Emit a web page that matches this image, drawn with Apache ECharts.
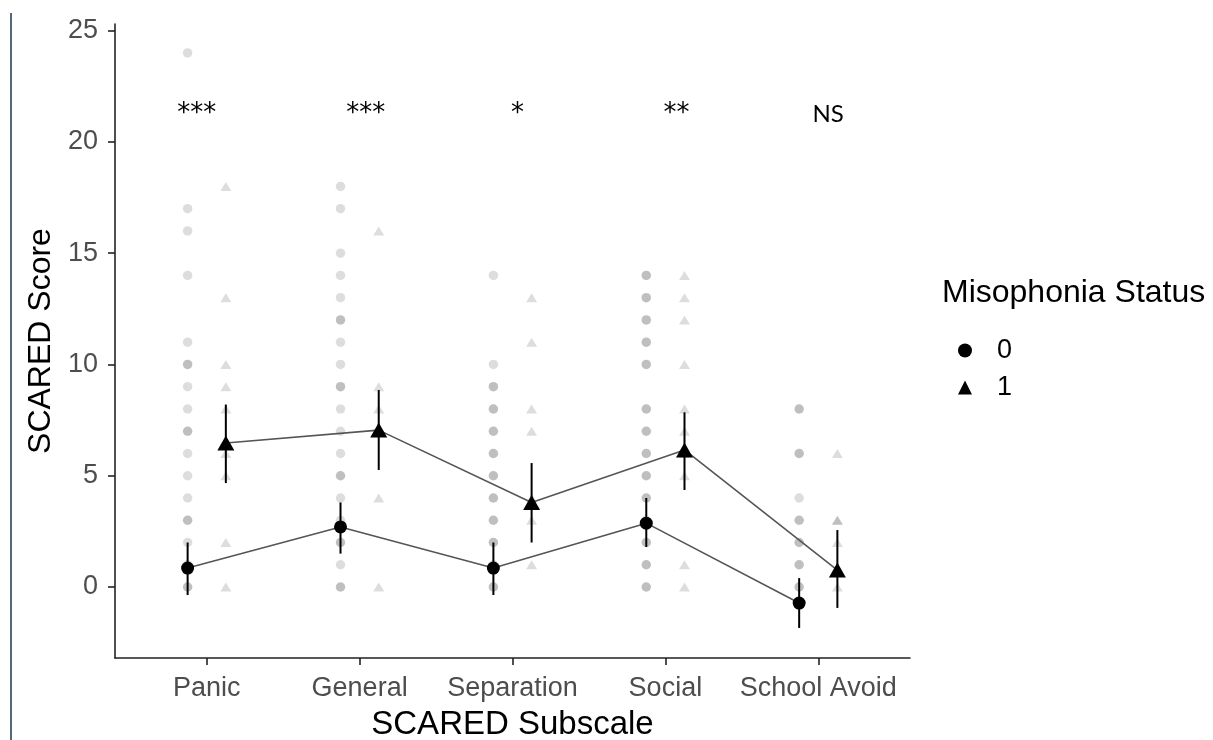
<!DOCTYPE html>
<html>
<head>
<meta charset="utf-8">
<script src="https://cdn.jsdelivr.net/npm/echarts@6/dist/echarts.min.js"></script>
<style>
html,body{margin:0;padding:0;background:#fff;}
#chart{width:1213px;height:740px;}
</style>
</head>
<body>
<div id="chart"></div>
<script>
// ---- data ----
const categories = ['Panic', 'General', 'Separation', 'Social', 'School Avoid'];
const yTicks = [0, 5, 10, 15, 20, 25];
const groupNames = ['0', '1'];

// raw observed scores (repeated values = overlapping observations)
const raw0 = [
  [24, 17, 16, 14, 11, 10, 10, 9, 8, 7, 7, 6, 5, 4, 3, 3, 2, 1, 0, 0],
  [18, 17, 15, 14, 13, 12, 12, 11, 10, 9, 9, 8, 7, 6, 5, 5, 4, 3, 2, 2, 1, 0, 0],
  [14, 10, 9, 9, 8, 8, 7, 7, 6, 6, 5, 5, 4, 4, 3, 3, 2, 2, 1, 0, 0],
  [14, 14, 13, 13, 12, 12, 11, 11, 10, 10, 8, 8, 7, 7, 6, 6, 5, 5, 4, 4, 3, 2, 2, 1, 1, 0, 0],
  [8, 8, 6, 6, 4, 3, 3, 2, 2, 1, 1, 0, 0]
];
const raw1 = [
  [18, 13, 10, 9, 8, 6, 5, 2, 0],
  [16, 9, 8, 7, 4, 0],
  [13, 11, 8, 7, 4, 3, 1],
  [14, 13, 12, 10, 8, 7, 6, 5, 1, 0],
  [6, 3, 3, 2, 0]
];

// group means and confidence limits
const mean0 = [0.85, 2.7, 0.85, 2.87, -0.72];
const lower0 = [-0.36, 1.5, -0.36, 1.8, -1.84];
const upper0 = [2.0, 3.8, 2.0, 4.0, 0.4];
const mean1 = [6.47, 7.05, 3.8, 6.16, 0.76];
const lower1 = [4.67, 5.26, 2.0, 4.36, -0.94];
const upper1 = [8.2, 8.85, 5.57, 7.85, 2.56];

// significance annotations
const annText = ['***', '***', '*', '**', 'NS'];
const annX = [0.935, 2.04, 3.033, 4.072, 5.065];
const annY = 21.25;

// ---- build ----
const dodge = 0.125;
function rawPoints(raw, off) {
  const out = [];
  raw.forEach((vals, i) => vals.forEach(v => out.push([i + 1 + off, v])));
  return out;
}
function meanPoints(m, off) { return m.map((v, i) => [i + 1 + off, v]); }
function barPoints(lo, hi, off) { return lo.map((v, i) => [i + 1 + off, v, hi[i]]); }

const errRender = function (params, api) {
  const x = api.value(0);
  const p1 = api.coord([x, api.value(1)]);
  const p2 = api.coord([x, api.value(2)]);
  return {
    type: 'line',
    shape: { x1: p1[0], y1: p1[1], x2: p2[0], y2: p2[1] },
    style: { stroke: '#000', lineWidth: 2 }
  };
};

const FONT = '"Liberation Sans", Arial, sans-serif';
const chart = echarts.init(document.getElementById('chart'));
chart.setOption({
  animation: false,
  backgroundColor: '#fff',
  title: {
    text: 'Misophonia Status',
    left: 937, top: 272,
    textStyle: { fontSize: 32, fontWeight: 'normal', color: '#000', fontFamily: FONT }
  },
  legend: {
    orient: 'vertical',
    left: 953, top: 332,
    itemWidth: 14, itemHeight: 14, itemGap: 10,
    data: [{ name: '0', icon: 'circle' }, { name: '1', icon: 'triangle' }],
    itemStyle: { color: '#000' },
    textStyle: { fontSize: 27, color: '#000', fontFamily: FONT, padding: [0, 0, 0, 20] }
  },
  graphic: [{
    type: 'line', silent: true,
    shape: { x1: 11, y1: 13, x2: 11, y2: 740 },
    style: { stroke: '#1c3552', lineWidth: 1.5 }
  }],
  grid: { left: 115, right: 303, top: 24, bottom: 82, containLabel: false, outerBoundsMode: 'none' },
  xAxis: {
    type: 'value', min: 0.4, max: 5.6,
    splitLine: { show: false },
    axisLine: { show: true, onZero: false, lineStyle: { color: '#222', width: 1.6 } },
    axisTick: { show: true, length: 7, lineStyle: { color: '#222', width: 1.6 }, customValues: [1, 2, 3, 4, 5] },
    axisLabel: {
      customValues: [1, 2, 3, 4, 5], margin: 17,
      formatter: v => categories[Math.round(v) - 1] || '',
      fontSize: 27, color: '#4d4d4d', fontFamily: FONT
    },
    name: 'SCARED Subscale', nameLocation: 'middle', nameGap: 50,
    nameTextStyle: { fontSize: 33, color: '#000', fontFamily: FONT }
  },
  yAxis: {
    type: 'value', min: -3.19, max: 25.3,
    splitLine: { show: false },
    axisLine: { show: true, onZero: false, lineStyle: { color: '#222', width: 1.6 } },
    axisTick: { show: true, length: 7, lineStyle: { color: '#222', width: 1.6 }, customValues: yTicks },
    axisLabel: {
      customValues: yTicks, margin: 17,
      fontSize: 27, color: '#4d4d4d', fontFamily: FONT
    },
    name: 'SCARED Score', nameLocation: 'middle', nameGap: 56,
    nameTextStyle: { fontSize: 32, color: '#000', fontFamily: FONT }
  },
  series: [
    {
      name: 'raw0', type: 'scatter', silent: true, z: 1,
      symbol: 'circle', symbolSize: 9.5,
      itemStyle: { color: 'rgba(0,0,0,0.17)' },
      data: rawPoints(raw0, -dodge)
    },
    {
      name: 'raw1', type: 'scatter', silent: true, z: 1,
      symbol: 'triangle', symbolSize: [11, 9],
      itemStyle: { color: 'rgba(0,0,0,0.17)' },
      data: rawPoints(raw1, dodge)
    },
    {
      name: 'line0', type: 'line', silent: true, z: 2, showSymbol: false, symbol: 'none',
      lineStyle: { color: '#555', width: 1.6 },
      data: meanPoints(mean0, -dodge)
    },
    {
      name: 'line1', type: 'line', silent: true, z: 2, showSymbol: false, symbol: 'none',
      lineStyle: { color: '#555', width: 1.6 },
      data: meanPoints(mean1, dodge)
    },
    {
      name: 'err0', type: 'custom', silent: true, z: 3,
      renderItem: errRender, encode: { x: 0, y: [1, 2] },
      data: barPoints(lower0, upper0, -dodge)
    },
    {
      name: 'err1', type: 'custom', silent: true, z: 3,
      renderItem: errRender, encode: { x: 0, y: [1, 2] },
      data: barPoints(lower1, upper1, dodge)
    },
    {
      name: groupNames[0], type: 'scatter', silent: true, z: 4,
      symbol: 'circle', symbolSize: 13,
      itemStyle: { color: '#000', opacity: 1 },
      data: meanPoints(mean0, -dodge)
    },
    {
      name: groupNames[1], type: 'scatter', silent: true, z: 4,
      symbol: 'triangle', symbolSize: [17, 15],
      itemStyle: { color: '#000', opacity: 1 },
      data: meanPoints(mean1, dodge)
    },
    {
      name: 'annotations', type: 'custom', silent: true, z: 5,
      encode: { x: 0, y: 1 },
      data: annX.map((x, i) => [x, annY]),
      renderItem: function (params, api) {
        const p = api.coord([api.value(0), api.value(1)]);
        const txt = annText[params.dataIndex];
        const isStar = txt.indexOf('*') >= 0;
        return {
          type: 'text',
          x: p[0], y: p[1],
          style: {
            text: txt,
            font: isStar ? '26px "DejaVu Sans", sans-serif' : '24px Lato, "Open Sans", sans-serif',
            fill: '#000', textAlign: 'center', textVerticalAlign: 'middle'
          }
        };
      }
    }
  ]
});
</script>
</body>
</html>
